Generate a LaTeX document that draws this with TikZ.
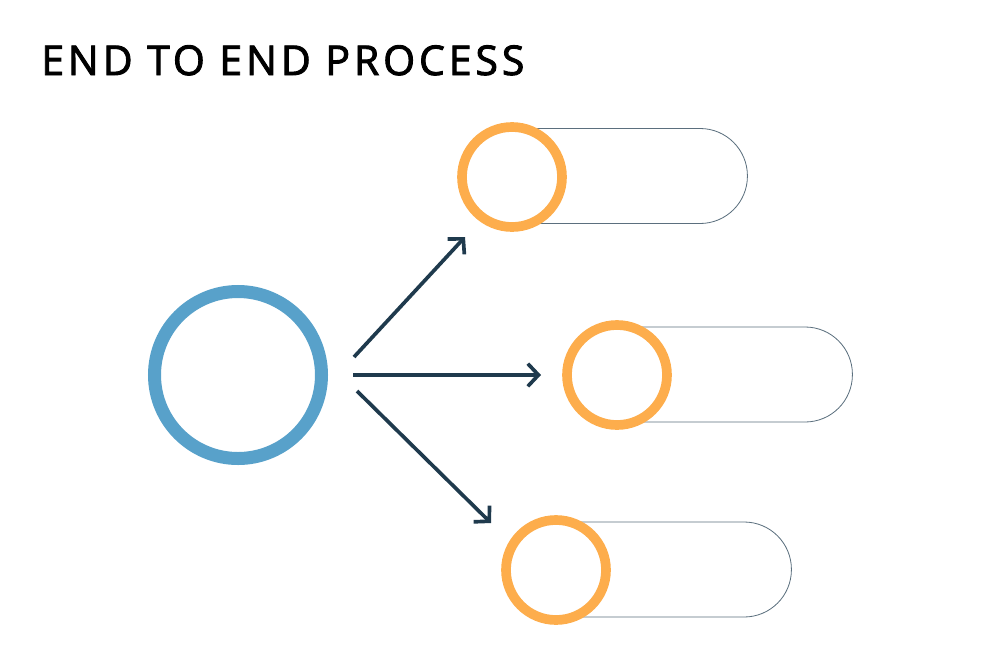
\documentclass[tikz,border=0pt]{standalone}
\usepackage{fontspec}
\setmainfont{Open Sans}
\usepackage{tikz}
\usetikzlibrary{arrows.meta,positioning,calc}
\definecolor{skyblue}{HTML}{58A1CA}
\definecolor{amber}{HTML}{FDAD4C}
\definecolor{slate}{HTML}{5B6F7E}
\definecolor{ink}{HTML}{1F3A4D}

\begin{document}
\begin{tikzpicture}[x=0.03cm,y=-0.03cm,every node/.style={inner sep=0pt},
  hub/.style={circle,draw=skyblue,fill=white,line width=0.39cm,minimum size=5.01cm},
  dot/.style={circle,draw=amber,fill=white,line width=0.29cm,minimum size=3.0cm},
  pill/.style={draw=slate,line width=0.7pt,rounded corners=1.42cm,minimum height=2.85cm,minimum width=8.49cm,anchor=west},
  flow/.style={-{Straight Barb[length=3.2mm,width=6.8mm]},line width=0.11cm,ink}]
\useasboundingbox (0,0) rectangle (1000,667);
\node[anchor=base west,font=\fontsize{35}{40}\selectfont\addfontfeatures{FakeBold=2.2,LetterSpace=9.5}] (title) at (41,75) {END TO END PROCESS};
% hub on the left
\node[hub] (src) at (238,375) {};
% three targets, pill behind ring
\node[pill] (bar1) at (464,176) {};
\node[pill] (bar2) at (569,374.5) {};
\node[pill] (bar3) at (508,569.5) {};
\node[dot] (t1) at (512,177) {};
\node[dot] (t2) at (617,375) {};
\node[dot] (t3) at (556,570) {};
\coordinate (s1) at (354,357);
\coordinate (s2) at (353,375);
\coordinate (s3) at (357,391);
\coordinate (e1) at (465,237);
\coordinate (e2) at (541,375);
\coordinate (e3) at (491,523);
\draw[flow] (s1)--(e1);
\draw[flow] (s2)--(e2);
\draw[flow] (s3)--(e3);
\end{tikzpicture}
\end{document}
